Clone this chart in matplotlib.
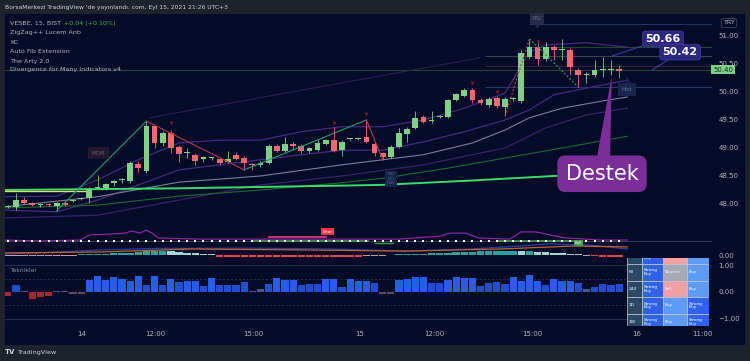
import numpy as np
import matplotlib
matplotlib.use('Agg')
import matplotlib.pyplot as plt
from matplotlib.patches import Rectangle, Polygon

W, H = 750, 361
BG = '#030b29'
FRAME = '#1e222d'
TXT = '#b2b5be'
UP = '#7fcf87'
DN = '#ef6a6f'

# --- 15 dk mumlar (x = mum sirasi, ilk mum -1) ---
opens = [47.95, 47.95, 48.07, 48.02, 47.98, 47.99, 47.96, 48.02, 48.05, 48.09, 48.11, 48.29, 48.29, 48.37, 48.42, 48.41,
         48.71, 48.59, 49.39, 49.09, 49.27, 49.02, 48.91, 48.88, 48.80, 48.82, 48.80, 48.75, 48.88, 48.82, 48.71, 48.70,
         48.73, 49.04, 48.95, 49.07, 49.04, 48.95, 48.96, 49.07, 49.14, 48.96, 49.16, 49.16, 49.20, 49.07, 48.91, 48.84,
         49.02, 49.25, 49.36, 49.55, 49.48, 49.55, 49.55, 49.86, 49.93, 50.04, 49.86, 49.77, 49.89, 49.73, 49.88, 49.84,
         50.63, 50.80, 50.59, 50.80, 50.75, 50.75, 50.39, 50.30, 50.30, 50.39, 50.39, 50.41]
highs = [47.99, 48.20, 48.13, 48.04, 48.02, 48.01, 48.04, 48.05, 48.07, 48.10, 48.30, 48.52, 48.38, 48.43, 48.47, 48.76,
         48.76, 49.48, 49.41, 49.30, 49.32, 49.05, 49.00, 48.91, 48.86, 48.84, 48.82, 48.95, 48.93, 48.85, 48.73, 48.76,
         49.07, 49.07, 49.20, 49.11, 49.07, 49.02, 49.14, 49.16, 49.38, 49.14, 49.17, 49.17, 49.50, 49.11, 48.93, 49.05,
         49.36, 49.38, 49.66, 49.59, 49.66, 49.59, 49.88, 49.98, 50.07, 50.07, 49.89, 49.91, 49.93, 49.91, 49.91, 50.75,
         50.95, 50.93, 50.89, 50.84, 50.95, 50.79, 50.43, 50.36, 50.57, 50.63, 50.57, 50.48]
lows = [47.92, 47.89, 48.00, 47.96, 47.95, 47.96, 47.88, 47.96, 48.03, 48.08, 48.02, 48.27, 48.25, 48.33, 48.38, 48.38,
        48.57, 48.56, 49.00, 49.04, 48.91, 48.75, 48.82, 48.70, 48.75, 48.79, 48.70, 48.73, 48.79, 48.61, 48.61, 48.66,
        48.71, 48.93, 48.93, 48.96, 48.91, 48.91, 48.95, 49.05, 48.93, 48.86, 49.15, 49.15, 49.09, 48.86, 48.79, 48.82,
        49.00, 49.11, 49.34, 49.45, 49.45, 49.53, 49.53, 49.84, 49.91, 49.80, 49.77, 49.73, 49.71, 49.57, 49.84, 49.80,
        50.59, 50.48, 50.55, 50.57, 50.57, 50.30, 50.09, 50.16, 50.27, 50.27, 50.30, 50.25]
closes = [47.96, 48.07, 48.02, 47.98, 47.99, 47.98, 48.02, 47.98, 48.05, 48.09, 48.27, 48.30, 48.36, 48.41, 48.43, 48.73,
          48.64, 49.39, 49.09, 49.27, 49.00, 48.89, 48.91, 48.77, 48.84, 48.82, 48.73, 48.80, 48.80, 48.73, 48.70, 48.73,
          49.04, 48.95, 49.07, 49.04, 48.95, 49.00, 49.09, 49.14, 48.95, 49.11, 49.16, 49.16, 49.11, 48.91, 48.84, 49.02,
          49.27, 49.34, 49.54, 49.46, 49.50, 49.57, 49.86, 49.96, 50.04, 49.86, 49.80, 49.88, 49.75, 49.88, 49.88, 50.70,
          50.80, 50.59, 50.80, 50.75, 50.75, 50.45, 50.30, 50.30, 50.39, 50.39, 50.40, 50.38]

# KC ve ortalamalar (x, fiyat)
kc_up_x = [-1.3, 5, 10, 15, 20, 25, 30, 35, 40, 45, 50, 55, 60, 63, 65, 70, 75]
kc_up_y = [48.13, 48.14, 48.43, 48.79, 49.09, 49.14, 49.14, 49.29, 49.38, 49.38, 49.50, 49.71, 49.98, 50.71, 50.84, 50.88, 50.80]
kc_lo_x = [-1.3, 5, 10, 15, 20, 25, 30, 35, 40, 45, 50, 55, 60, 63, 66, 70, 75]
kc_lo_y = [47.89, 47.86, 48.07, 48.34, 48.61, 48.70, 48.79, 48.88, 48.96, 48.96, 49.11, 49.29, 49.50, 49.68, 49.95, 50.07, 50.21]
kc_lo2_x = [-1.3, 10, 20, 30, 40, 50, 60, 65, 70, 75]
kc_lo2_y = [47.75, 47.80, 48.07, 48.34, 48.50, 48.70, 49.00, 49.36, 49.59, 49.71]
gray_x = [-1.3, 10, 20, 30, 40, 45, 50, 56, 60, 63, 67, 72, 75]
gray_y = [47.95, 48.13, 48.39, 48.50, 48.70, 48.79, 48.88, 49.09, 49.32, 49.54, 49.71, 49.84, 49.91]
dgreen_x = [-1.3, 10, 20, 30, 40, 45, 53, 60, 67, 75]
dgreen_y = [47.93, 47.98, 48.14, 48.25, 48.38, 48.46, 48.64, 48.82, 49.00, 49.21]
lgreen_x = [-1.3, 20, 44.7, 56, 66, 75]
lgreen_y = [48.25, 48.28, 48.34, 48.42, 48.50, 48.55]
yellow_x = [-1.3, 9]
yellow_y = [48.23, 48.23]
trend_x = [16.4, 56.9]
trend_y = [49.54, 50.61]

# ZigZag
zz_x = [5, 16, 28, 43, 45]
zz_y = [47.88, 49.48, 48.61, 49.50, 48.79]
zz_dash_x = [60, 63, 69]
zz_dash_y = [49.57, 50.95, 50.09]
mark_x = [19, 39, 43, 56, 59, 64]
mark_y = [49.45, 49.44, 49.61, 50.16, 50.00, 50.90]

# fib seviyeleri (fiyat, baslangic x, renk)
fib_lv = [51.21, 50.80, 50.64, 50.46, 50.09]
fib_x0 = [63, 63, 57.5, 57.5, 57.5]
fib_col = ['#25345f', '#1d4a2c', '#3a4646', '#3a2230', '#26386a']

price_ticks = [48.0, 48.5, 49.0, 49.5, 50.0, 50.5, 51.0]
time_pos = [8.1, 17.05, 29.1, 42.2, 51.3, 63.3, 76.2, 84.2]
time_lab = ['14', '12:00', '15:00', '15', '12:00', '15:00', '16', '11:00']

# alt panel 1 (divergence vs.)
purple_x = [-1.35, 2.94, 7.85, 9.08, 11.53, 13.37, 14.23, 15.21, 15.95, 16.69, 17.42, 22.58, 34.85, 47.12,
            52.02, 53.25, 55.21, 56.69, 60.61, 61.96, 63.8, 65.52, 67.36, 71.66, 75.0]
purple_y = [0.50, 0.47, 0.50, 0.67, 0.70, 0.73, 0.80, 0.73, 0.83, 0.73, 0.57, 0.53, 0.53, 0.53,
            0.63, 0.73, 0.73, 0.57, 0.53, 0.77, 0.77, 0.67, 0.57, 0.50, 0.50]
blue_x = [-1.35, 5.4, 10.3, 17.4, 28.7, 38.5, 48.0, 55.7, 61.8, 65.5, 70.4, 75.0]
blue_y = [0.03, 0.10, 0.17, 0.22, 0.23, 0.20, 0.13, 0.20, 0.30, 0.37, 0.33, 0.20]
orange_x = [-1.35, 10.3, 21.5, 34.85, 48.0, 59.4, 68.5, 75.0]
orange_y = [0.07, 0.10, 0.20, 0.17, 0.13, 0.20, 0.30, 0.27]
hist1 = [-0.03] * 9 + [0.02, 0.03, 0.04, 0.05, 0.06, 0.07, 0.08, 0.09] + [0.12, 0.13, 0.13, 0.12] + \
        [0.10, 0.08, 0.06, 0.04, 0.02] + [-0.05] * 18 + [-0.04, -0.03, -0.02, -0.01] + \
        [0.02, 0.03, 0.04, 0.05, 0.06, 0.07, 0.08, 0.09, 0.10, 0.11, 0.12, 0.12, 0.13] + \
        [0.13, 0.13, 0.12, 0.12, 0.11, 0.10, 0.08, 0.06, 0.04, 0.02] + [-0.03, -0.04, -0.05, -0.05, -0.05]
green_seg = [(29, 43.2), (59, 68.5)]

# alt panel 2 (Teknikler)
tek = [-0.16, 0.28, 0.02, -0.25, -0.18, -0.15, 0.03, 0.04, -0.07, -0.07,
       0.45, 0.60, 0.45, 0.55, 0.50, 0.42, 0.60, 0.28, 0.60, 0.28,
       0.50, 0.38, 0.42, 0.42, 0.22, 0.52, 0.28, 0.28, 0.28, 0.38,
       0.05, 0.12, 0.32, 0.52, 0.45, 0.45, 0.25, 0.30, 0.32, 0.48,
       0.48, 0.20, 0.48, 0.42, 0.42, 0.35, -0.08, -0.08, 0.45, 0.50,
       0.55, 0.58, 0.35, 0.35, 0.45, 0.55, 0.52, 0.52, 0.22, 0.35,
       0.38, 0.32, 0.55, 0.42, 0.65, 0.42, 0.28, 0.50, 0.40, 0.40,
       0.35, 0.12, 0.20, 0.32, 0.25, 0.30]

tab_tf = ['15', '60', '240', '1D', '1W']
tab_c1 = ['Strong\nBuy'] * 5
tab_c2 = ['Sell', 'Neutral', 'Sell', 'Buy', 'Buy']
tab_c3 = ['Buy', 'Buy', 'Buy', 'Strong\nBuy', 'Strong\nBuy']
cell_col = {'Strong\nBuy': '#2f62e9', 'Buy': '#5d9bf5', 'Sell': '#f1a0a3', 'Neutral': '#a6a9b4'}

fig = plt.figure(figsize=(W / 100, H / 100), dpi=100, facecolor=FRAME)


def px_axes(x0, y0, x1, y1):
    a = fig.add_axes([x0 / W, 1 - y1 / H, (x1 - x0) / W, (y1 - y0) / H])
    a.set_facecolor('none')
    for s in a.spines.values():
        s.set_visible(False)
    return a


def ftxt(x, y, s, **kw):
    fig.text(x / W, 1 - y / H, s, va='center', **kw)


fig.add_artist(Rectangle((5 / W, 1 - 345 / H), 740 / W, 331 / H, transform=fig.transFigure,
                         fc=BG, ec='none', zorder=0))

XL = (-1.35, 85.4)
xs = np.arange(-1, len(opens) - 1)

# ---------------- ana grafik ----------------
ax = px_axes(5, 15, 712, 226)
ax.set_xlim(*XL)
ax.set_ylim(47.607, 51.375)

ax.axhline(50.39, color='#2a4236', lw=0.8, zorder=1)
for lv, x0, c in zip(fib_lv, fib_x0, fib_col):
    ax.hlines(lv, x0, XL[1], color=c, lw=0.8, zorder=1)

ax.plot(trend_x, trend_y, color='#2a1f4f', lw=0.8, zorder=1)
ax.plot(kc_up_x, kc_up_y, color='#4b2a7e', lw=0.9, zorder=2)
ax.plot(kc_lo_x, kc_lo_y, color='#4b2a7e', lw=0.9, zorder=2)
ax.plot(kc_lo2_x, kc_lo2_y, color='#3a2366', lw=0.9, zorder=2)
ax.plot(gray_x, gray_y, color='#7c8096', lw=0.8, zorder=2)
ax.plot(dgreen_x, dgreen_y, color='#1e6b2e', lw=0.8, zorder=2)
ax.plot(lgreen_x, lgreen_y, color='#3ddc6a', lw=1.4, zorder=2)
ax.plot(yellow_x, yellow_y, color='#d7e36a', lw=1.0, zorder=2)

o = np.array(opens)
c = np.array(closes)
up = c >= o
cols = np.where(up, UP, DN)
ax.vlines(xs, lows, highs, colors=cols, lw=0.6, zorder=3)
bot = np.minimum(o, c)
hgt = np.maximum(np.abs(c - o), 0.018)
ax.bar(xs, hgt, bottom=bot, width=0.7, color=cols, lw=0, zorder=4)

for i in range(len(zz_x) - 1):
    col = '#1f9e6e' if zz_y[i + 1] > zz_y[i] else '#b23a48'
    ax.plot(zz_x[i:i + 2], zz_y[i:i + 2], color=col, lw=0.8, zorder=5)
ax.plot(zz_dash_x[:2], zz_dash_y[:2], color='#c2334a', lw=0.9, ls=(0, (1.5, 1.5)), zorder=5)
ax.plot(zz_dash_x[1:], zz_dash_y[1:], color='#1f9e6e', lw=0.9, ls=(0, (1.5, 1.5)), zorder=5)
ax.scatter(mark_x, mark_y, marker='v', s=7, color='#8a1a2c', lw=0, zorder=5)

lab = dict(ha='center', va='center', zorder=6)
ax.text(10.1, 48.91, 'MOM', fontsize=4, color='#5a5c70',
        bbox=dict(boxstyle='square,pad=0.7', fc='#24182e', ec='none'), **lab)
ax.text(63.9, 51.31, 'RSI', fontsize=4, color='#6a6d80',
        bbox=dict(boxstyle='square,pad=0.5', fc='#262a42', ec='none'), **lab)
ax.scatter([63.9], [51.17], marker='v', s=14, color='#262a42', lw=0, zorder=6)
ax.text(75.0, 50.04, 'Hist', fontsize=4, color='#6a7090',
        bbox=dict(boxstyle='square,pad=0.7', fc='#18264d', ec='none'), **lab)
ax.scatter([75.0], [50.23], marker='^', s=16, color='#18264d', lw=0, zorder=6)
ax.text(46.0, 48.45, 'RSI\nCCI\nOBV', fontsize=3, color='#55618a', linespacing=1.1,
        bbox=dict(boxstyle='square,pad=0.4', fc='#17244a', ec='none'), **lab)

ax.add_patch(Polygon([(71.3, 48.84), (72.9, 48.84), (73.1, 50.29)], closed=True,
                     fc='#7b2d98', ec='none', zorder=7))
ax.text(71.9, 48.54, 'Destek', fontsize=15, color='white',
        bbox=dict(boxstyle='round,pad=0.4', fc='#7b2d98', ec='none'), **dict(lab, zorder=8))

ax.annotate('50.66', xy=(73.1, 50.64), xytext=(79.4, 50.95), ha='center', va='center',
            color='white', fontsize=8, fontweight='bold', zorder=8,
            bbox=dict(boxstyle='round,pad=0.25', fc='#2c2882', ec='#433ea0', lw=0.5),
            arrowprops=dict(arrowstyle='-', color='#433ea0', lw=0.8, shrinkA=0, shrinkB=0))
ax.annotate('50.42', xy=(78.0, 50.39), xytext=(81.5, 50.71), ha='center', va='center',
            color='white', fontsize=8, fontweight='bold', zorder=8,
            bbox=dict(boxstyle='round,pad=0.25', fc='#2c2882', ec='#433ea0', lw=0.5),
            arrowprops=dict(arrowstyle='-', color='#433ea0', lw=0.8, shrinkA=0, shrinkB=0))

ax.set_xticks([])
ax.yaxis.tick_right()
ax.set_yticks(price_ticks)
ax.set_yticklabels([f'{v:.2f}' for v in price_ticks])
ax.tick_params(axis='y', length=0, pad=4.5, labelsize=5, labelcolor=TXT)
ax.text(1.0015, 50.40, '50.40', transform=ax.get_yaxis_transform(), ha='left', va='center',
        fontsize=5, color='#10301a', clip_on=False, zorder=9,
        bbox=dict(boxstyle='square,pad=0.25', fc='#7fcf87', ec='none'))

# ---------------- alt panel 1 ----------------
a1 = px_axes(5, 226, 712, 258)
a1.set_xlim(*XL)
a1.set_ylim(-0.1, 0.967)
a1.axhline(0.483, color='#363a4f', lw=0.8, zorder=1)
h1 = np.array(hist1)
hc = []
for i, v in enumerate(h1):
    prev = h1[i - 1] if i else v
    if v >= 0:
        hc.append('#26a69a' if v >= prev else '#9fd8d0')
    else:
        hc.append('#e8414e' if v <= prev and v < -0.035 else '#c99aa6')
a1.bar(xs, h1, width=0.9, color=hc, lw=0, zorder=2)
a1.plot(blue_x, blue_y, color='#2440a8', lw=0.9, zorder=3)
a1.plot(orange_x, orange_y, color='#c4622c', lw=0.9, zorder=3)
a1.plot(purple_x, purple_y, color='#9c27b0', lw=0.8, zorder=3)
for s, e in green_seg:
    a1.plot([s, e], [0.483, 0.483], color='#43a047', lw=1.2, zorder=4)
a1.plot([31, 38], [0.6, 0.6], color='#e0447a', lw=1.2, zorder=4)
a1.plot([44, 46.2], [0.41, 0.41], color='#43a047', lw=1.0, zorder=4)
a1.scatter(xs, [0.483] * len(xs), marker='s', s=1.6, color='white', lw=0, zorder=5)
a1.text(38.2, 0.78, 'Bear', fontsize=3.2, color='white', ha='center', va='center', zorder=6,
        bbox=dict(boxstyle='square,pad=0.25', fc='#f23645', ec='none'))
a1.text(69.0, 0.40, 'Bull', fontsize=2.8, color='white', ha='center', va='center', zorder=6,
        bbox=dict(boxstyle='square,pad=0.2', fc='#43a047', ec='none'))
a1.set_xticks([])
a1.yaxis.tick_right()
a1.set_yticks([0])
a1.set_yticklabels(['0.00'])
a1.tick_params(axis='y', length=0, pad=4.5, labelsize=5, labelcolor=TXT)

# ---------------- alt panel 2 ----------------
a2 = px_axes(5, 258, 712, 326)
a2.set_xlim(*XL)
a2.set_ylim(-1.283, 1.283)
for lv in (1, -1):
    a2.axhline(lv, color='#262e52', lw=0.8, zorder=1)
for lv in (0.5, -0.5):
    a2.axhline(lv, color='#262e52', lw=0.7, ls=(0, (2, 2)), zorder=1)
tcol = []
for v in tek:
    if v < -0.1:
        tcol.append('#a8252f')
    elif v < 0:
        tcol.append('#5e4a63')
    elif v < 0.15:
        tcol.append('#46598f')
    elif v < 0.4:
        tcol.append('#1f4fcf')
    else:
        tcol.append('#275ee8')
a2.bar(xs, tek, width=0.88, color=tcol, lw=0, zorder=2)
a2.yaxis.tick_right()
a2.set_yticks([1, 0, -1])
a2.set_yticklabels(['1.00', '0.00', '\u22121.00'])
a2.tick_params(axis='y', length=0, pad=4.5, labelsize=5, labelcolor=TXT)
a2.set_xticks(time_pos)
a2.set_xticklabels(time_lab)
a2.tick_params(axis='x', length=0, pad=3.5, labelsize=5, labelcolor=TXT)

# tablo
ta = px_axes(627, 258, 709, 326)
ta.set_xlim(0, 82)
ta.set_ylim(4.74, 0.64)
ta.set_xticks([])
ta.set_yticks([])
edges = [0, 15, 36, 60, 82]
for r in range(5):
    row = [tab_tf[r], tab_c1[r], tab_c2[r], tab_c3[r]]
    for k in range(4):
        fc = '#2b4866' if k == 0 else cell_col[row[k]]
        ta.add_patch(Rectangle((edges[k], r), edges[k + 1] - edges[k], 1, fc=fc, ec='#c9ccd6', lw=0.5))
        ta.text(edges[k] + 1.5, r + 0.5, row[k], fontsize=3.1, color='white', ha='left', va='center',
                linespacing=0.95, clip_on=True)

# ---------------- yazilar ----------------
ftxt(5, 7.5, "BorsaMerkezi TradingView 'de yay\u0131nland\u0131. com, Eyl 15, 2021 21:26 UTC+3",
     fontsize=4.3, color='#d1d4dc')
ftxt(10, 23, 'VESBE, 15, BIST', fontsize=4.6, color=TXT)
ftxt(64, 23, '+0.04 (+0.10%)', fontsize=4.6, color='#4caf50')
legend_lines = ['ZigZag++ Lucem Anb', 'KC', 'Auto Fib Extension', 'The Arty 2.0',
                'Divergence for Many Indicators v4']
for yy, s in zip([32.5, 42, 51.5, 61, 70], legend_lines):
    ftxt(10, yy, s, fontsize=4.6, color=TXT)
ftxt(10, 270, 'Teknikler', fontsize=4.3, color='#8a8e9c')
fig.text(729 / W, 1 - 23 / H, 'TRY', fontsize=4.6, color=TXT, ha='center', va='center',
         bbox=dict(boxstyle='round,pad=0.3', fc='none', ec='#434651', lw=0.6))
ftxt(5, 352.5, 'TV', fontsize=5, color='#d1d4dc', fontweight='bold')
ftxt(17, 352.5, 'TradingView', fontsize=4.6, color='#d1d4dc')

fig.savefig('out.png', dpi=100, facecolor=FRAME)
